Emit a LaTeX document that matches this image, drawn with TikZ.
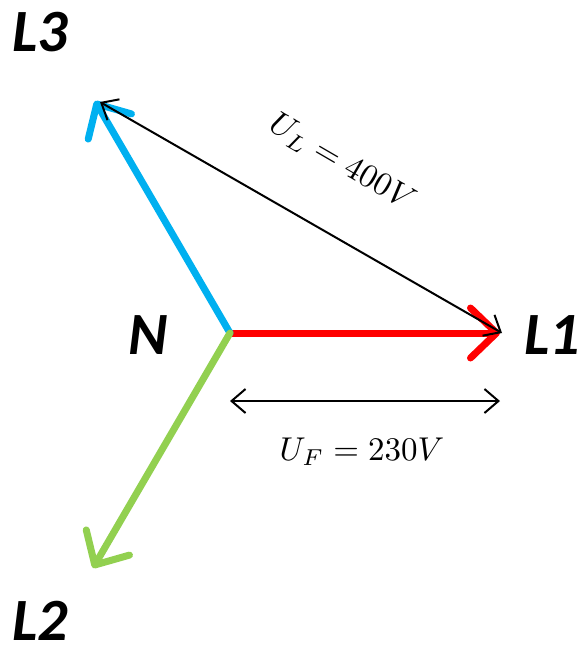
\documentclass[tikz,border=0pt]{standalone}
\usepackage{graphicx}
\usepackage{fontspec}
\usetikzlibrary{arrows.meta}
\newfontfamily\lblfont{Carlito}[BoldItalicFont={Carlito Bold Italic}]
\definecolor{phred}{RGB}{255,0,0}
\definecolor{phblue}{RGB}{0,176,240}
\definecolor{phgreen}{RGB}{146,208,80}
\tikzset{
  phase/.style={line width=7pt, line cap=round, -{Straight Barb[length=26pt,width=50pt,round]}},
  meas/.style={line width=2pt, {Straight Barb[length=14pt,width=24pt]}-{Straight Barb[length=14pt,width=24pt]}},
  lbl/.style={font=\lblfont\bfseries\itshape\fontsize{60}{60}\selectfont, inner sep=0pt},
  mlbl/.style={font=\fontsize{10}{10}\selectfont, inner sep=0pt}
}
\newcommand{\bigmath}[1]{\scalebox{3.3}{$#1$}}
\begin{document}
\begin{tikzpicture}[x=1pt,y=-1pt]
\useasboundingbox (0,0) rectangle (581,649);
\coordinate (N0) at (230,333);
\coordinate (T1) at (500,333);
\coordinate (T3) at (95,101);
\coordinate (T2) at (93,568);
\coordinate (B1) at (502,333);
\coordinate (B3) at (100,102);
\coordinate (F0) at (230,401);
\coordinate (F1) at (500,401);
\draw[phase, phred] (N0) -- (T1);
\draw[phase, phblue] (N0) -- (T3);
\draw[phase, phgreen] (N0) -- (T2);
\draw[meas] (B1) -- (B3);
\draw[meas] (F0) -- (F1);
\node[lbl] (lN) at (148,335) {N};
\node[lbl] (l1) at (552,335) {L1};
\node[lbl] (l3) at (40,32) {L3};
\node[lbl] (l2) at (40,621) {L2};
\node[mlbl, rotate=-30.2] (uL) at (342,163) {\bigmath{U_L = 400V}};
\node[mlbl] (uF) at (362,452) {\bigmath{U_F = 230V}};
\end{tikzpicture}
\end{document}
